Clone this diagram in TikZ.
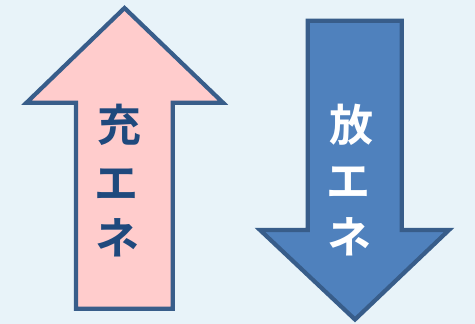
\documentclass[tikz,border=0pt]{standalone}
\usepackage{fontspec}
\newfontfamily\cjk{Noto Sans CJK JP}[BoldFont={* Bold}]
\definecolor{bg}{HTML}{E8F3F9}
\definecolor{pinkfill}{HTML}{FFCCCC}
\definecolor{bluefill}{HTML}{4F81BD}
\definecolor{edgeblue}{HTML}{385D8A}
\definecolor{textblue}{HTML}{1F497D}
\tikzset{
  arrowshape/.style={draw=edgeblue, line width=4.2pt, line join=miter},
  glyph/.style={font=\cjk\bfseries\fontsize{44}{44}\selectfont, inner sep=0pt, anchor=center}
}
\begin{document}
\begin{tikzpicture}[x=1pt,y=-1pt]
\fill[bg] (0,0) rectangle (475,324);
\useasboundingbox (0,0) rectangle (475,324);
% up arrow
\draw[arrowshape, fill=pinkfill] (124.5,8) -- (223,102.7) -- (172.7,102.7) -- (172.7,308.7)
  -- (76,308.7) -- (76,102.7) -- (26.5,102.7) -- cycle;
% down arrow
\draw[arrowshape, fill=bluefill] (307.7,20.7) -- (401.7,20.7) -- (401.7,230) -- (449,230)
  -- (355,319.5) -- (260,230) -- (307.7,230) -- cycle;
\node[glyph, text=textblue] (c1) at (119.5,124.5) {充};
\node[glyph, text=textblue] (c2) at (116.5,184.5) {エ};
\node[glyph, text=textblue] (c3) at (117.5,238) {ネ};
\node[glyph, text=white] (d1) at (351,124.5) {放};
\node[glyph, text=white] (d2) at (348.5,182) {エ};
\node[glyph, text=white] (d3) at (349,237) {ネ};
\end{tikzpicture}
\end{document}
